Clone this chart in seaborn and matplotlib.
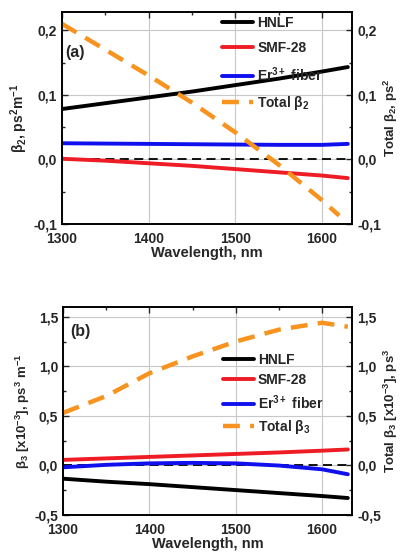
import numpy as np
import pandas as pd
import matplotlib
matplotlib.use("Agg")
import matplotlib.pyplot as plt
from matplotlib.ticker import FuncFormatter, MultipleLocator
import seaborn as sns

# panel (a) - beta2
wl_a = [1300, 1350, 1400, 1450, 1500, 1550, 1600, 1630]
hnlf_b2 = [0.078, 0.087, 0.096, 0.105, 0.115, 0.125, 0.136, 0.143]
smf_b2 = [0.001, -0.002, -0.006, -0.010, -0.015, -0.020, -0.025, -0.029]
er_b2 = [0.025, 0.0245, 0.024, 0.0235, 0.023, 0.0225, 0.0225, 0.024]
wl_tot2 = [1300, 1350, 1400, 1450, 1500, 1550, 1600, 1620]
tot_b2 = [0.21, 0.17, 0.13, 0.088, 0.042, -0.008, -0.063, -0.087]

# panel (b) - beta3
wl_b = [1300, 1350, 1400, 1450, 1500, 1550, 1600, 1630]
hnlf_b3 = [-0.135, -0.165, -0.19, -0.22, -0.25, -0.28, -0.31, -0.33]
smf_b3 = [0.055, 0.07, 0.085, 0.10, 0.115, 0.13, 0.148, 0.16]
er_b3 = [-0.02, 0.005, 0.02, 0.025, 0.02, -0.002, -0.04, -0.09]
tot_b3 = [0.53, 0.70, 0.93, 1.10, 1.25, 1.37, 1.44, 1.40]

sns.set_style("white")
plt.rcParams['font.family'] = ['Liberation Sans', 'DejaVu Sans']
plt.rcParams['font.weight'] = 'bold'
plt.rcParams['axes.labelweight'] = 'bold'
plt.rcParams['mathtext.fontset'] = 'custom'
plt.rcParams['mathtext.rm'] = 'Liberation Sans:bold'
plt.rcParams['mathtext.it'] = 'Liberation Sans:bold'

orange = '#F7931E'
red = '#EE1C24'
blue = '#1010EE'

comma = FuncFormatter(lambda v, p: f"{v:.1f}".replace('.', ','))

fig = plt.figure(figsize=(4.02, 5.53), dpi=100)
ax1 = fig.add_axes([0.154, 0.595, 0.722, 0.383])
ax2 = fig.add_axes([0.157, 0.069, 0.719, 0.376])


def style(ax, tw, ylim, major, minor):
    ax.set_xlim(1300, 1635)
    ax.set_ylim(*ylim)
    tw.set_ylim(*ylim)
    ax.xaxis.set_major_locator(MultipleLocator(100))
    ax.xaxis.set_minor_locator(MultipleLocator(50))
    for a in (ax, tw):
        a.yaxis.set_major_locator(MultipleLocator(major))
        a.yaxis.set_minor_locator(MultipleLocator(minor))
        a.yaxis.set_major_formatter(comma)
        a.tick_params(which='both', direction='in', labelsize=10)
        a.tick_params(which='major', length=4, width=1)
        a.tick_params(which='minor', length=2.5, width=1)
        for s in a.spines.values():
            s.set_linewidth(1.2)
            s.set_color('black')
    ax.tick_params(which='both', top=True, right=False)
    ax.tick_params(axis='x', pad=6)
    ax.grid(True, which='major', color='#c8c8c8', lw=0.8)
    ax.set_axisbelow(True)
    ax.set_xlabel("Wavelength, nm", fontsize=10.5, labelpad=0)


# panel (a)
df_a = pd.DataFrame({'wl': wl_a, 'HNLF': hnlf_b2, 'SMF': smf_b2, 'Er': er_b2})
tw1 = ax1.twinx()
ax1.axhline(0, color='black', ls=(0, (5, 3)), lw=1.3, xmin=0, xmax=0.985)
sns.lineplot(data=df_a, x='wl', y='HNLF', ax=ax1, color='black', lw=2.8, label='HNLF', legend=False)
sns.lineplot(data=df_a, x='wl', y='SMF', ax=ax1, color=red, lw=2.8, label='SMF-28', legend=False)
sns.lineplot(data=df_a, x='wl', y='Er', ax=ax1, color=blue, lw=2.8, label='Er$^{3+}$ fiber', legend=False)
sns.lineplot(x=wl_tot2, y=tot_b2, ax=tw1, color=orange, lw=3.2, ls=(0, (3.8, 2.3)), label=r'Total $\beta_2$', legend=False)
style(ax1, tw1, (-0.1, 0.228), 0.1, 0.05)
ax1.set_ylabel(r"$\beta_2$, ps$^2$m$^{-1}$", fontsize=10, labelpad=2)
tw1.set_ylabel(r"Total $\beta_2$, ps$^2$", fontsize=9.5, labelpad=1)
ax1.text(0.01, 0.81, "(a)", transform=ax1.transAxes, fontsize=11.5, fontweight='bold', va='center')
h = ax1.get_lines()[1:] + tw1.get_lines()
ax1.legend(handles=h, labels=[l.get_label() for l in h], loc='upper left',
           bbox_to_anchor=(0.51, 1.04), frameon=False, fontsize=10,
           handlelength=2.2, handletextpad=0.3, labelspacing=0.75)

# panel (b)
df_b = pd.DataFrame({'wl': wl_b, 'HNLF': hnlf_b3, 'SMF': smf_b3, 'Er': er_b3, 'Tot': tot_b3})
tw2 = ax2.twinx()
ax2.axhline(0, color='black', ls=(0, (5, 3)), lw=1.3, xmin=0, xmax=0.985)
sns.lineplot(data=df_b, x='wl', y='HNLF', ax=ax2, color='black', lw=2.8, label='HNLF', legend=False)
sns.lineplot(data=df_b, x='wl', y='SMF', ax=ax2, color=red, lw=2.8, label='SMF-28', legend=False)
sns.lineplot(data=df_b, x='wl', y='Er', ax=ax2, color=blue, lw=2.8, label='Er$^{3+}$ fiber', legend=False)
sns.lineplot(data=df_b, x='wl', y='Tot', ax=tw2, color=orange, lw=3.2, ls=(0, (3.8, 2.3)), label=r'Total $\beta_3$', legend=False)
style(ax2, tw2, (-0.5, 1.6), 0.5, 0.25)
ax2.set_ylabel(r"$\beta_3$ [x10$^{-3}$], ps$^3$ m$^{-1}$", fontsize=9.5, labelpad=2)
tw2.set_ylabel(r"Total $\beta_3$ [x10$^{-3}$], ps$^3$", fontsize=9.5, labelpad=1)
ax2.text(0.025, 0.88, "(b)", transform=ax2.transAxes, fontsize=11.5, fontweight='bold', va='center')
h = ax2.get_lines()[1:] + tw2.get_lines()
ax2.legend(handles=h, labels=[l.get_label() for l in h], loc='upper left',
           bbox_to_anchor=(0.51, 0.84), frameon=False, fontsize=10,
           handlelength=2.2, handletextpad=0.3, labelspacing=0.45)

fig.savefig("out.png", dpi=100)
